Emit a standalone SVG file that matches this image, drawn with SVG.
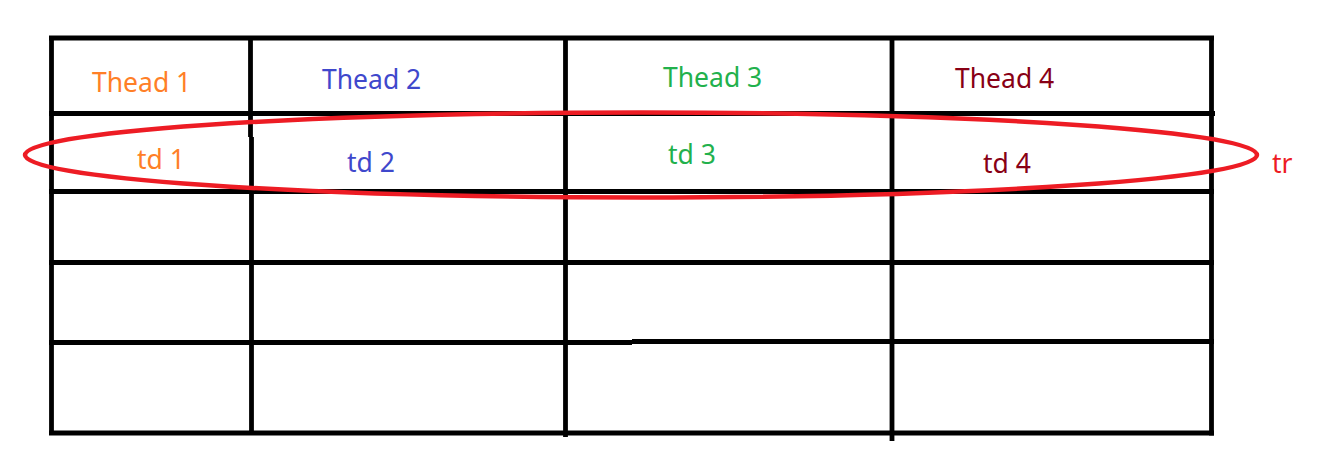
<svg xmlns="http://www.w3.org/2000/svg" width="1324" height="454" viewBox="0 0 1324 454">
  <style>
    .grid line { stroke: #000000; stroke-width: 4.8; stroke-linecap: butt; }
    .lbl { font-family: "Noto Sans", "Open Sans", "DejaVu Sans", sans-serif; font-size: 26.5px; }
    .c1 { fill: #ff7f27; }
    .c2 { fill: #3f48cc; }
    .c3 { fill: #22b14c; }
    .c4 { fill: #880015; }
    .cr { fill: #ed1c24; }
  </style>
  <rect x="0" y="0" width="1324" height="454" fill="#ffffff"/>
  <g id="table" class="grid">
    <!-- horizontal lines -->
    <line x1="49" y1="38" x2="1214" y2="38"/>
    <line x1="49" y1="113.5" x2="1215" y2="113.5" stroke-linecap="round"/>
    <line x1="49" y1="191.5" x2="1214" y2="191.5"/>
    <line x1="49" y1="262.5" x2="1214" y2="262.5"/>
    <line x1="49" y1="342.5" x2="632" y2="342.5"/>
    <line x1="632" y1="341.5" x2="1214" y2="341.5"/>
    <line x1="49" y1="433" x2="1214" y2="433"/>
    <!-- vertical lines -->
    <line x1="51.5" y1="36" x2="51.5" y2="435"/>
    <line x1="250.5" y1="36" x2="250.5" y2="137"/>
    <line x1="251.5" y1="137" x2="251.5" y2="435"/>
    <line x1="565.5" y1="36" x2="565.5" y2="437"/>
    <line x1="892" y1="36" x2="892" y2="441"/>
    <line x1="1211.5" y1="36" x2="1211.5" y2="435.5"/>
  </g>
  <g id="headers">
    <text class="lbl c1" x="92" y="92">Thead 1</text>
    <text class="lbl c2" x="322" y="89">Thead 2</text>
    <text class="lbl c3" x="663" y="87">Thead 3</text>
    <text class="lbl c4" x="955" y="88">Thead 4</text>
  </g>
  <g id="cells">
    <text class="lbl c1" x="137" y="169">td 1</text>
    <text class="lbl c2" x="347" y="172">td 2</text>
    <text class="lbl c3" x="668" y="164">td 3</text>
    <text class="lbl c4" x="983" y="173">td 4</text>
  </g>
  <g id="tr-highlight">
    <ellipse cx="641" cy="155" rx="616" ry="42.5" fill="none" stroke="#ed1c24" stroke-width="4.5"/>
    <text class="lbl cr" x="1272" y="173">tr</text>
  </g>
</svg>
